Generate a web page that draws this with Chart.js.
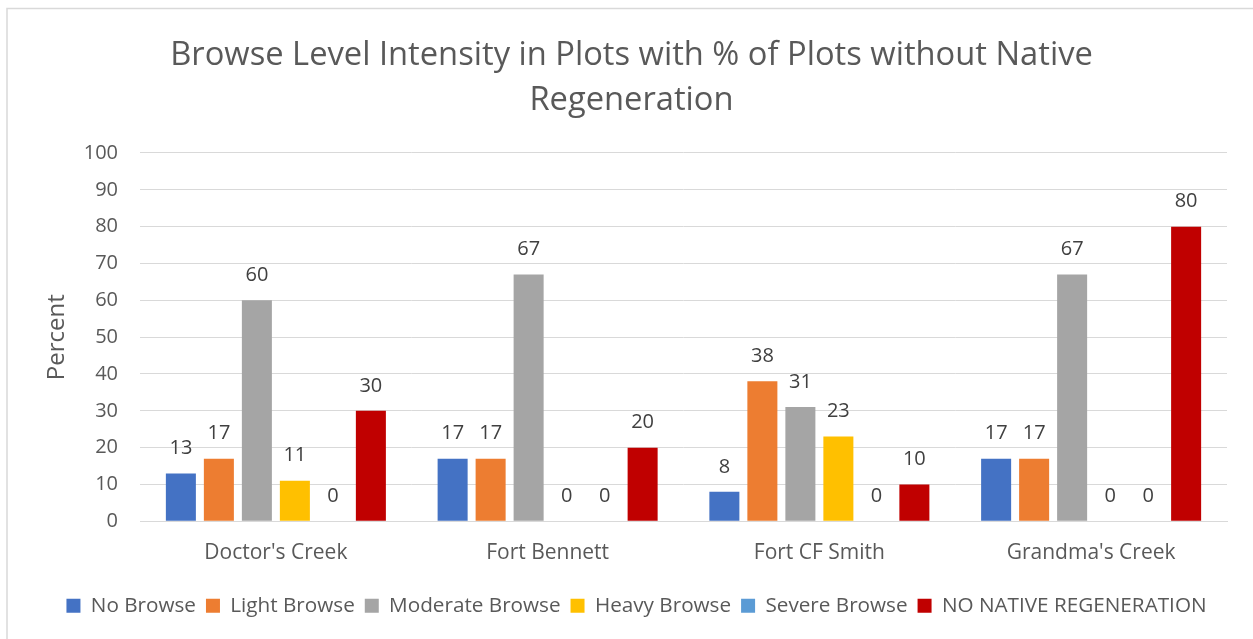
<!DOCTYPE html>
<html>
<head>
<meta charset="utf-8">
<script src="https://cdn.jsdelivr.net/npm/chart.js@4.4.1/dist/chart.umd.min.js"></script>
<style>
  html, body { margin: 0; padding: 0; background: #ffffff; }
  #wrap { position: relative; width: 1253px; height: 639px; }
</style>
</head>
<body>
<div id="wrap"><canvas id="c" width="1253" height="639"></canvas></div>
<script>
const categories = ["Doctor's Creek", "Fort Bennett", "Fort CF Smith", "Grandma's Creek"];
const seriesNames = ["No Browse", "Light Browse", "Moderate Browse", "Heavy Browse", "Severe Browse", "NO NATIVE REGENERATION"];
const noBrowse = [13, 17, 8, 17];
const lightBrowse = [17, 17, 38, 17];
const moderateBrowse = [60, 67, 31, 67];
const heavyBrowse = [11, 0, 23, 0];
const severeBrowse = [0, 0, 0, 0];
const noNativeRegen = [30, 20, 10, 80];
const yTicks = [0, 10, 20, 30, 40, 50, 60, 70, 80, 90, 100];
const seriesColors = ["#4472C4", "#ED7D31", "#A5A5A5", "#FFC000", "#5B9BD5", "#C00000"];
const seriesValues = [noBrowse, lightBrowse, moderateBrowse, heavyBrowse, severeBrowse, noNativeRegen];

const FONT = "'Open Sans', sans-serif";
const TXT = "#595959";

const borderPlugin = {
  id: 'outerBorder',
  beforeDraw(chart) {
    const ctx = chart.ctx;
    ctx.save();
    ctx.fillStyle = '#ffffff';
    ctx.fillRect(0, 0, chart.width, chart.height);
    ctx.strokeStyle = '#D9D9D9';
    ctx.lineWidth = 1.5;
    ctx.beginPath();
    ctx.moveTo(chart.width, 8.5);
    ctx.lineTo(7, 8.5);
    ctx.lineTo(7, chart.height);
    ctx.stroke();
    ctx.restore();
  }
};

const blockShift = {
  id: 'blockShift',
  afterLayout(chart) {
    if (chart.legend) {
      chart.legend.left += 23;
      chart.legend.right += 23;
    }
    if (chart.titleBlock) {
      chart.titleBlock.left += 18;
      chart.titleBlock.right += 18;
    }
  }
};

const labelPlugin = {
  id: 'valueLabels',
  afterDatasetsDraw(chart) {
    const ctx = chart.ctx;
    ctx.save();
    ctx.font = "20px " + FONT;
    ctx.fillStyle = "#404040";
    ctx.textAlign = 'center';
    ctx.textBaseline = 'middle';
    chart.data.datasets.forEach((ds, i) => {
      const meta = chart.getDatasetMeta(i);
      meta.data.forEach((bar, j) => {
        ctx.fillText(String(ds.data[j]), bar.x, bar.y - 25);
      });
    });
    ctx.restore();
  }
};

new Chart(document.getElementById('c'), {
  type: 'bar',
  data: {
    labels: categories,
    datasets: seriesNames.map((name, i) => ({
      label: name,
      data: seriesValues[i],
      backgroundColor: seriesColors[i],
      borderWidth: 0,
      categoryPercentage: 0.839,
      barPercentage: 0.79
    }))
  },
  options: {
    responsive: false,
    animation: false,
    devicePixelRatio: 1,
    layout: { padding: { left: 0, right: 26, top: 0, bottom: 13 } },
    plugins: {
      title: {
        display: true,
        text: ["Browse Level Intensity in Plots with % of Plots without Native", "Regeneration"],
        color: TXT,
        font: { family: FONT, size: 32.7, weight: 'normal', lineHeight: 1.376 },
        padding: { top: 33, bottom: 30 }
      },
      legend: {
        position: 'bottom',
        labels: {
          color: TXT,
          font: { family: FONT, size: 20.7 },
          boxWidth: 14,
          boxHeight: 14,
          padding: 10
        }
      },
      tooltip: { enabled: false }
    },
    scales: {
      x: {
        grid: { display: false, drawTicks: false },
        border: { display: true, color: '#D9D9D9', width: 1 },
        ticks: { color: TXT, font: { family: FONT, size: 21 }, padding: 19 },
        afterFit(scale) { scale.height = 64; }
      },
      y: {
        min: 0, max: 100,
        afterBuildTicks(scale) { scale.ticks = yTicks.map(v => ({ value: v })); },
        grid: { color: '#D9D9D9', lineWidth: 1, drawTicks: false },
        border: { display: false },
        ticks: { color: TXT, font: { family: FONT, size: 20 }, padding: 22 },
        title: {
          display: true, text: 'Percent', color: TXT,
          font: { family: FONT, size: 24 }, padding: { top: 43, bottom: 0 }
        },
        afterFit(scale) { scale.width = 140; }
      }
    }
  },
  plugins: [borderPlugin, blockShift, labelPlugin]
});
</script>
</body>
</html>
